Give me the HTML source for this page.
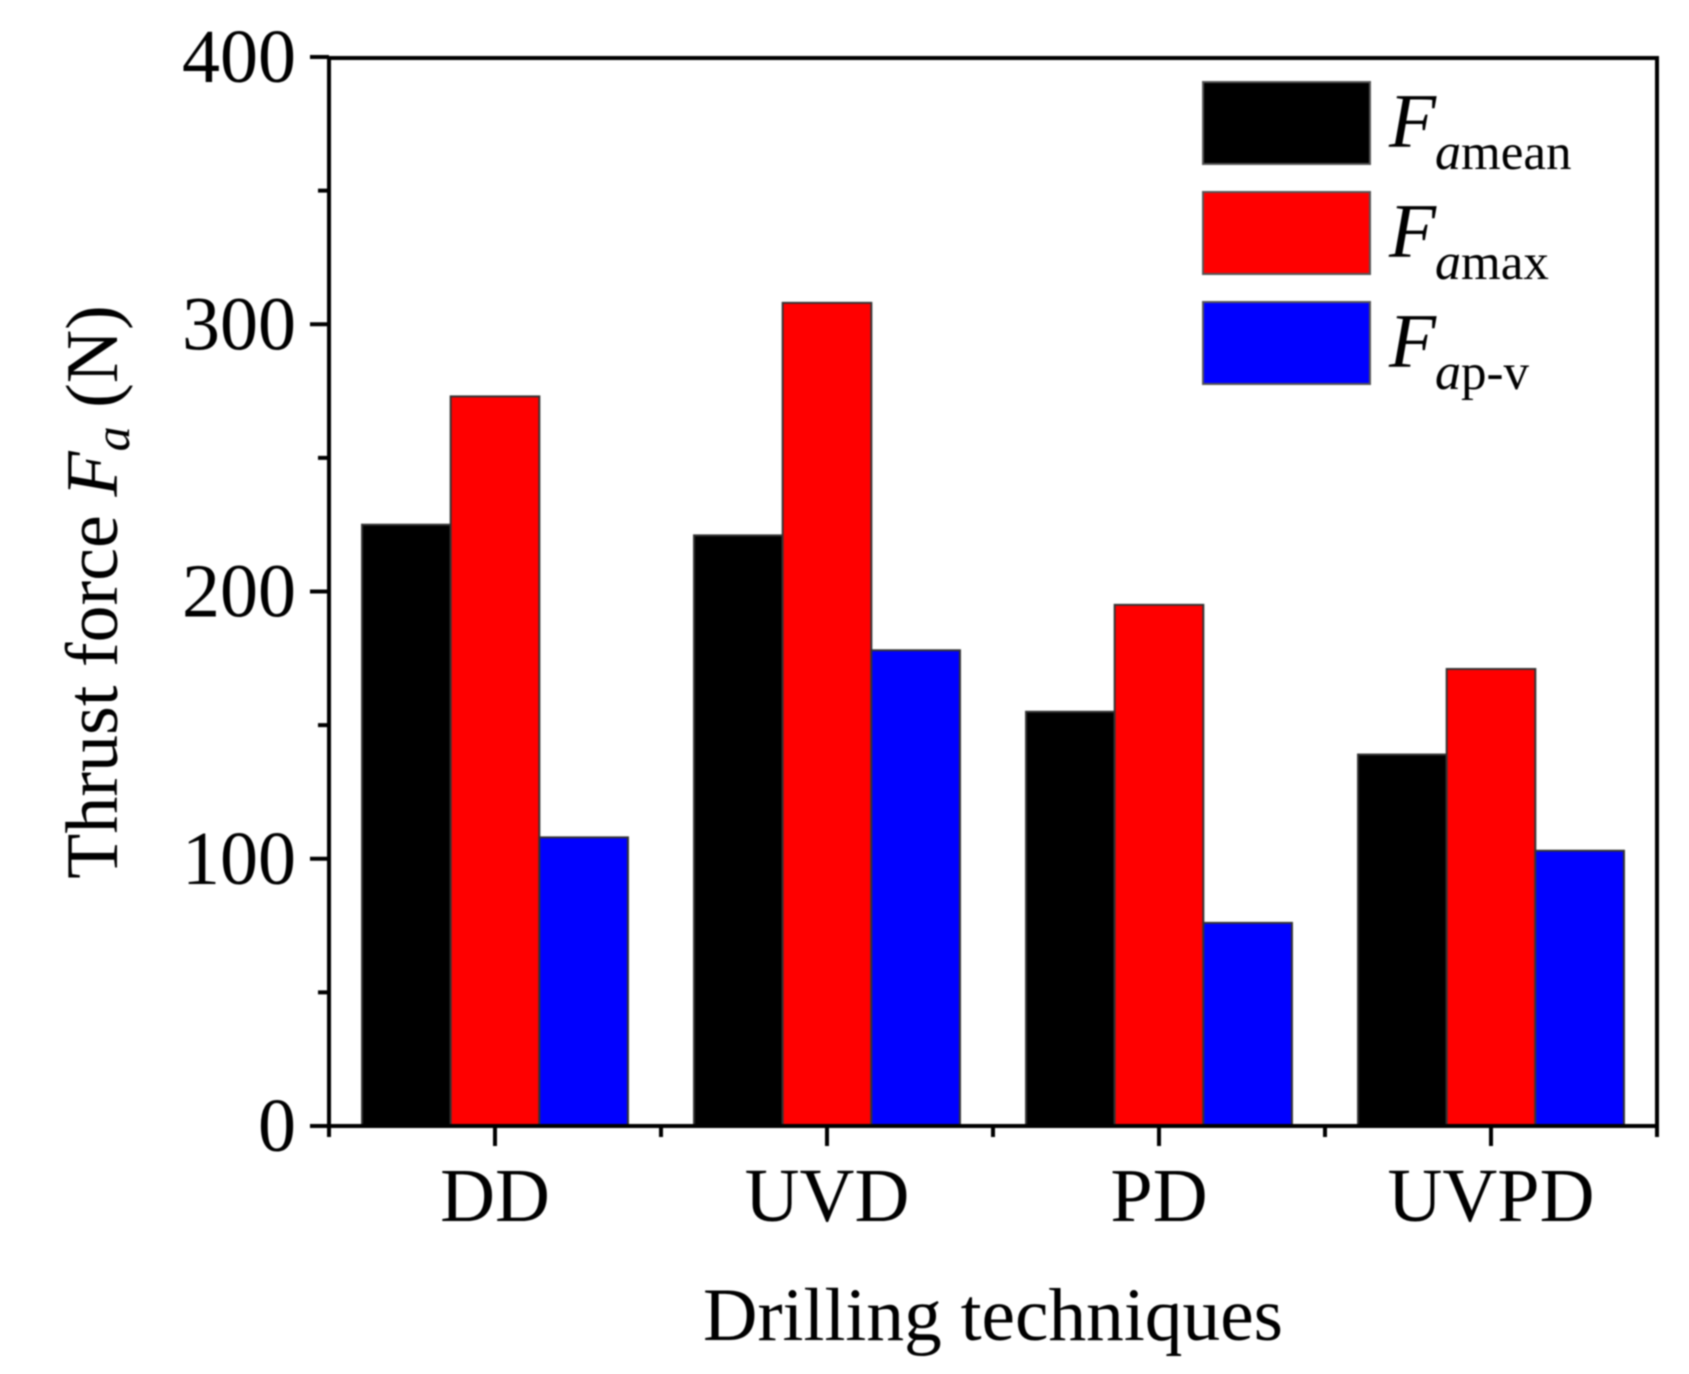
<!DOCTYPE html>
<html lang="en">
<head>
<meta charset="utf-8">
<title>Thrust force by drilling technique</title>
<style>
html,body{margin:0;padding:0;background:#fff;width:1689px;height:1374px;overflow:hidden}
svg{display:block;filter:blur(0.9px)}
text{font-family:"Liberation Serif",serif;fill:#000}
</style>
</head>
<body>
<svg id="chart" width="1689" height="1374" viewBox="0 0 1689 1374" xmlns="http://www.w3.org/2000/svg">
  <g id="bars"></g>
  <rect x="329" y="58" width="1328" height="1068" fill="none" stroke="#000" stroke-width="4"/>
  <g id="ticks"></g>
  <text x="993" y="1340" font-size="75" text-anchor="middle" textLength="580" lengthAdjust="spacingAndGlyphs">Drilling techniques</text>
  <text transform="translate(117,592) rotate(-90)" font-size="74" text-anchor="middle">Thrust force <tspan font-style="italic">F</tspan><tspan font-style="italic" font-size="50" dy="12">a</tspan><tspan dy="-12"> (N)</tspan></text>
  <g>
    <rect x="1203" y="82" width="167" height="82" fill="#000" stroke="#555" stroke-width="2"/>
    <text x="1389" y="147" font-size="77"><tspan font-style="italic">F</tspan><tspan font-style="italic" font-size="52" dy="22" dx="-1">a</tspan><tspan font-size="51">mean</tspan></text>
    <rect x="1203" y="192" width="167" height="82" fill="#f00" stroke="#555" stroke-width="2"/>
    <text x="1389" y="257" font-size="77"><tspan font-style="italic">F</tspan><tspan font-style="italic" font-size="52" dy="22" dx="-1">a</tspan><tspan font-size="51">max</tspan></text>
    <rect x="1203" y="302" width="167" height="82" fill="#00f" stroke="#555" stroke-width="2"/>
    <text x="1389" y="367" font-size="77"><tspan font-style="italic">F</tspan><tspan font-style="italic" font-size="52" dy="22" dx="-1">a</tspan><tspan font-size="51">p-v</tspan></text>
  </g>
</svg>
<script>
const categories = ["DD", "UVD", "PD", "UVPD"];
const meanValues = [225, 221, 155, 139];
const maxValues = [273, 308, 195, 171];
const peakValleyValues = [108, 178, 76, 103];
const yMajorTicks = [0, 100, 200, 300, 400];
const yMinorTicks = [50, 150, 250, 350];

const NS = "http://www.w3.org/2000/svg";
const plot = {left: 329, right: 1657, top: 57, bottom: 1126};
const yMax = 400;
const groupWidth = (plot.right - plot.left) / categories.length;
const barWidth = groupWidth * 0.267;

function yScale(v) {
  return plot.bottom - (v / yMax) * (plot.bottom - plot.top);
}
function xCenter(i) {
  return plot.left + (i + 0.5) * groupWidth;
}

const barsGroup = document.getElementById("bars");
const ticksGroup = document.getElementById("ticks");

function drawSeries(values, offset, fill, seriesName) {
  values.forEach(function (v, i) {
    const r = document.createElementNS(NS, "rect");
    
    
    r.setAttribute("x", xCenter(i) + (offset - 0.5) * barWidth);
    r.setAttribute("y", yScale(v));
    r.setAttribute("width", barWidth);
    r.setAttribute("height", plot.bottom - yScale(v));
    r.setAttribute("fill", fill);
    r.setAttribute("stroke", "#333");
    r.setAttribute("stroke-width", "2");
    barsGroup.appendChild(r);
  });
}
drawSeries(meanValues, -1, "#000", "mean");
drawSeries(maxValues, 0, "#f00", "max");
drawSeries(peakValleyValues, 1, "#00f", "peak-valley");

function drawTick(x1, y1, x2, y2, width, name) {
  const l = document.createElementNS(NS, "line");
  
  
  l.setAttribute("x1", x1);
  l.setAttribute("y1", y1);
  l.setAttribute("x2", x2);
  l.setAttribute("y2", y2);
  l.setAttribute("stroke", "#000");
  l.setAttribute("stroke-width", width);
  ticksGroup.appendChild(l);
}
function drawLabel(x, y, anchor, str, name) {
  const t = document.createElementNS(NS, "text");
  
  
  t.setAttribute("x", x);
  t.setAttribute("y", y);
  t.setAttribute("text-anchor", anchor);
  t.setAttribute("font-size", "76");
  t.textContent = str;
  ticksGroup.appendChild(t);
}

yMajorTicks.forEach(function (v) {
  const y = yScale(v);
  drawTick(plot.left - 19, y, plot.left, y, 4, 'y-major-tick-' + v);
  drawLabel(plot.left - 33, y + 25, "end", String(v), 'y-tick-label-' + v);
});
yMinorTicks.forEach(function (v) {
  const y = yScale(v);
  drawTick(plot.left - 11, y, plot.left, y, 4, 'y-minor-tick-' + v);
});
categories.forEach(function (c, i) {
  const x = xCenter(i);
  drawTick(x, plot.bottom, x, plot.bottom + 20, 4, 'x-major-tick-' + c.toLowerCase());
  drawLabel(x, plot.bottom + 95, "middle", c, 'x-tick-label-' + c.toLowerCase());
});
for (let i = 0; i <= categories.length; i++) {
  const x = plot.left + i * groupWidth;
  drawTick(x, plot.bottom, x, plot.bottom + 11, 4, 'x-minor-tick-' + i);
}
</script>
</body>
</html>
